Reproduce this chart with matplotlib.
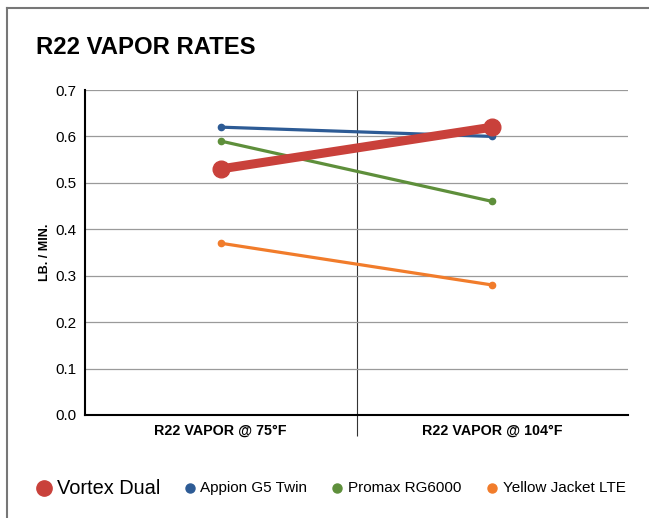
import matplotlib
matplotlib.use("Agg")
import matplotlib.pyplot as plt
from matplotlib.lines import Line2D

plt.rcParams["font.family"] = ["Liberation Sans", "DejaVu Sans"]

categories = ["R22 VAPOR @ 75°F", "R22 VAPOR @ 104°F"]
series_names = ["Vortex Dual", "Appion G5 Twin", "Promax RG6000", "Yellow Jacket LTE"]
vortex = [0.53, 0.62]
appion = [0.62, 0.60]
promax = [0.59, 0.46]
yellow_jacket = [0.37, 0.28]
yticks = [0.0, 0.1, 0.2, 0.3, 0.4, 0.5, 0.6, 0.7]

colors = ["#c9413b", "#2d5b95", "#5e8f3b", "#f17c2b"]

W, H = 649, 518
fig = plt.figure(figsize=(W / 100, H / 100), dpi=100)
ax = fig.add_axes([85 / W, 1 - 415 / H, (628 - 85) / W, (415 - 90) / H])

x = list(range(len(categories)))
for vals, c in zip([appion, promax, yellow_jacket], colors[1:]):
    ax.plot(x, vals, color=c, lw=2.3, marker="o", ms=4.5, zorder=3)
ax.plot(x, vortex, color=colors[0], lw=6.5, marker="o", ms=12, zorder=4,
        solid_capstyle="round")

ax.set_xlim(-0.5, 1.5)
ax.set_ylim(0, 0.7)
ax.set_yticks(yticks)
ax.set_yticklabels([f"{v:.1f}" for v in yticks], fontsize=11)
ax.set_xticks(x)
ax.set_xticklabels(categories, fontsize=10.3, fontweight="bold")
ax.set_xticks([0.5], minor=True)
ax.tick_params(axis="both", which="major", length=0, pad=6)
ax.tick_params(axis="x", which="minor", length=15, width=0.8, color="#333333")
ax.axvline(0.5, color="#333333", lw=0.8, zorder=1)
ax.grid(axis="y", color="#9a9a9a", lw=0.9, zorder=0)
for s in ["top", "right"]:
    ax.spines[s].set_visible(False)
ax.spines["left"].set_linewidth(1.5)
ax.spines["bottom"].set_linewidth(1.5)
ax.set_ylabel("LB. / MIN.", fontsize=9, fontweight="bold", labelpad=3)

fig.text(36 / W, 1 - 47 / H, "R22 VAPOR RATES", fontsize=17.2, fontweight="bold",
         va="center", ha="left")

# frame around the chart area
fig.add_artist(Line2D([7 / W, 7 / W], [0, 1 - 8 / H], color="#777777", lw=1.5))
fig.add_artist(Line2D([7 / W, 1], [1 - 8 / H, 1 - 8 / H], color="#777777", lw=1.5))

# legend
ly = 1 - 488 / H
legend_pos = [(44, 57, 14.4, 11), (190, 200, 11, 6.5), (337, 348, 11, 6.5), (492, 503, 11, 6.5)]
for name, c, (mx, tx, fs, ms) in zip(series_names, colors, legend_pos):
    fig.add_artist(Line2D([mx / W], [ly], marker="o", color=c, ms=ms, lw=0))
    fig.text(tx / W, ly, name, fontsize=fs, va="center", ha="left")

fig.savefig("out.png", dpi=100)
